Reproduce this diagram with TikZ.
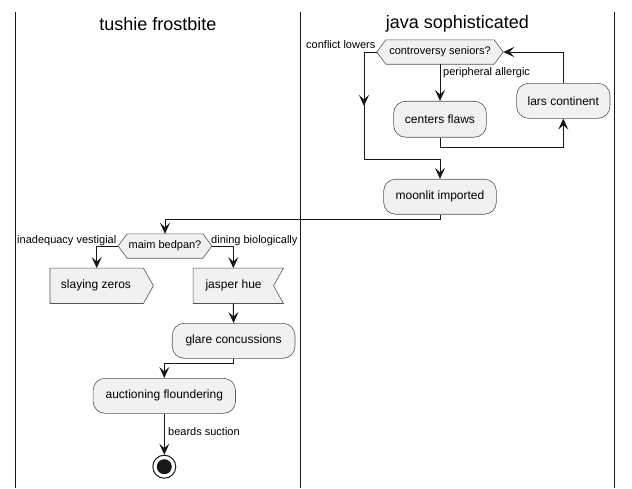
\documentclass[tikz,border=0pt]{standalone}
\usepackage{fontspec}
\setmainfont{Liberation Sans}
\usetikzlibrary{arrows.meta,calc}
\definecolor{actfill}{HTML}{F1F1F1}
\definecolor{edge}{HTML}{181818}
\definecolor{bord}{HTML}{555555}
\tikzset{
  act/.style={draw=bord, fill=actfill, rounded corners=12pt, line width=0.6pt,
    font=\fontsize{12}{14}\selectfont, minimum height=35pt, inner sep=0pt},
  shapetext/.style={font=\fontsize{12}{14}\selectfont, minimum height=35pt, inner sep=0pt},
  hextext/.style={font=\fontsize{11}{13}\selectfont, minimum height=24pt, inner sep=0pt},
  outline/.style={draw=bord, fill=actfill, line width=0.6pt},
  lbl/.style={font=\fontsize{11}{13}\selectfont, inner sep=0pt},
  title/.style={font=\fontsize{18}{21}\selectfont, inner sep=0pt},
  flow/.style={draw=edge, line width=1pt, -{Stealth[length=11pt,width=10pt,inset=4.5pt]}},
  lane/.style={draw=edge, line width=1pt}
}
\begin{document}
\begin{tikzpicture}[x=1pt,y=-1pt]
\useasboundingbox (0,0) rectangle (632,488);
\fill[white] (0,0) rectangle (632,488);
% swimlanes
\coordinate (l1a) at (15,12);  \coordinate (l1b) at (15,488);
\coordinate (l2a) at (300,12); \coordinate (l2b) at (300,488);
\coordinate (l3a) at (614,12); \coordinate (l3b) at (614,488);
\draw[lane] (l1a) -- (l1b);
\draw[lane] (l2a) -- (l2b);
\draw[lane] (l3a) -- (l3b);
\node[title] (t1) at (158,24) {tushie frostbite};
\node[title] (t2) at (457.5,24) {java sophisticated};

% right lane
\node[hextext, minimum width=126pt] (d1) at (440,52) {};
\path[outline] (d1.west) -- ([xshift=9pt]d1.north west) -- ([xshift=-9pt]d1.north east)
  -- (d1.east) -- ([xshift=-9pt]d1.south east) -- ([xshift=9pt]d1.south west) -- cycle;
\node[hextext] (d1t) at (440,52) {controversy seniors?};

\node[act, minimum width=92.7pt, minimum height=36pt] (cf) at (440,119.2) {centers flaws};
\node[act, minimum width=93.3pt] (lc) at (563.3,100.8) {lars continent};
\node[act, minimum width=112.7pt] (mi) at (440,196.7) {moonlit imported};

\node[lbl, anchor=east] (lb1) at (375.5,45) {conflict lowers};
\node[lbl, anchor=west] (lb2) at (443,72.5) {peripheral allergic};

\coordinate (k1) at (364,52);
\coordinate (k2) at (364,159.3);
\coordinate (m1) at (364,92);
\coordinate (m2) at (364,106);
\draw[flow] (d1.west) -- (k1) -- (k2) -| (mi.north);
\draw[flow] (m1) -- (m2);
\draw[flow] (d1.south) -- (cf.north);
\draw[flow] (cf.south) -- ++(0,9.5) -| (lc.south);
\draw[flow] (lc.north) |- (d1.east);

% left lane
\node[hextext, minimum width=93.4pt] (d2) at (165,246) {};
\path[outline] (d2.west) -- ([xshift=9pt]d2.north west) -- ([xshift=-9pt]d2.north east)
  -- (d2.east) -- ([xshift=-9pt]d2.south east) -- ([xshift=9pt]d2.south west) -- cycle;
\node[hextext] (d2t) at (165,246) {maim bedpan?};

\draw[flow] (mi.south) -- ++(0,5) -| (d2.north);

\node[shapetext, minimum width=93pt] (sz) at (96.7,285.8) {};
\path[outline] (sz.north west) -- (sz.north east) -- ([xshift=10pt]sz.east)
  -- (sz.south east) -- (sz.south west) -- cycle;
\node[shapetext] (szt) at (96,285.8) {slaying zeros};

\node[shapetext, minimum width=80pt] (jh) at (233.3,285.8) {};
\path[outline] (jh.north west) -- ([xshift=10pt]jh.north east) -- (jh.east)
  -- ([xshift=10pt]jh.south east) -- (jh.south west) -- cycle;
\node[shapetext] (jht) at (233.6,285.8) {jasper hue};

\node[lbl, anchor=east] (lb3) at (116.5,241) {inadequacy vestigial};
\node[lbl, anchor=west] (lb4) at (211,241) {dining biologically};

\draw[flow] (d2.west) -| (sz.north);
\draw[flow] (d2.east) -| (jh.north);

\node[act, minimum width=122.7pt] (gc) at (233.6,340.8) {glare concussions};
\node[act, minimum width=142.4pt] (af) at (164.3,395.8) {auctioning floundering};

\draw[flow] (jh.south) -- (gc.north);
\draw[flow] (gc.south) -- ++(0,5) -| (af.north);

\node[circle, draw=edge, line width=1pt, minimum size=23pt, inner sep=0pt] (end) at (164.3,466.7) {};
\fill[edge] (end.center) circle (7.5pt);
\draw[flow] (af.south) -- (end.north);
\node[lbl, anchor=west] (lb5) at (168,431.7) {beards suction};
\end{tikzpicture}
\end{document}
